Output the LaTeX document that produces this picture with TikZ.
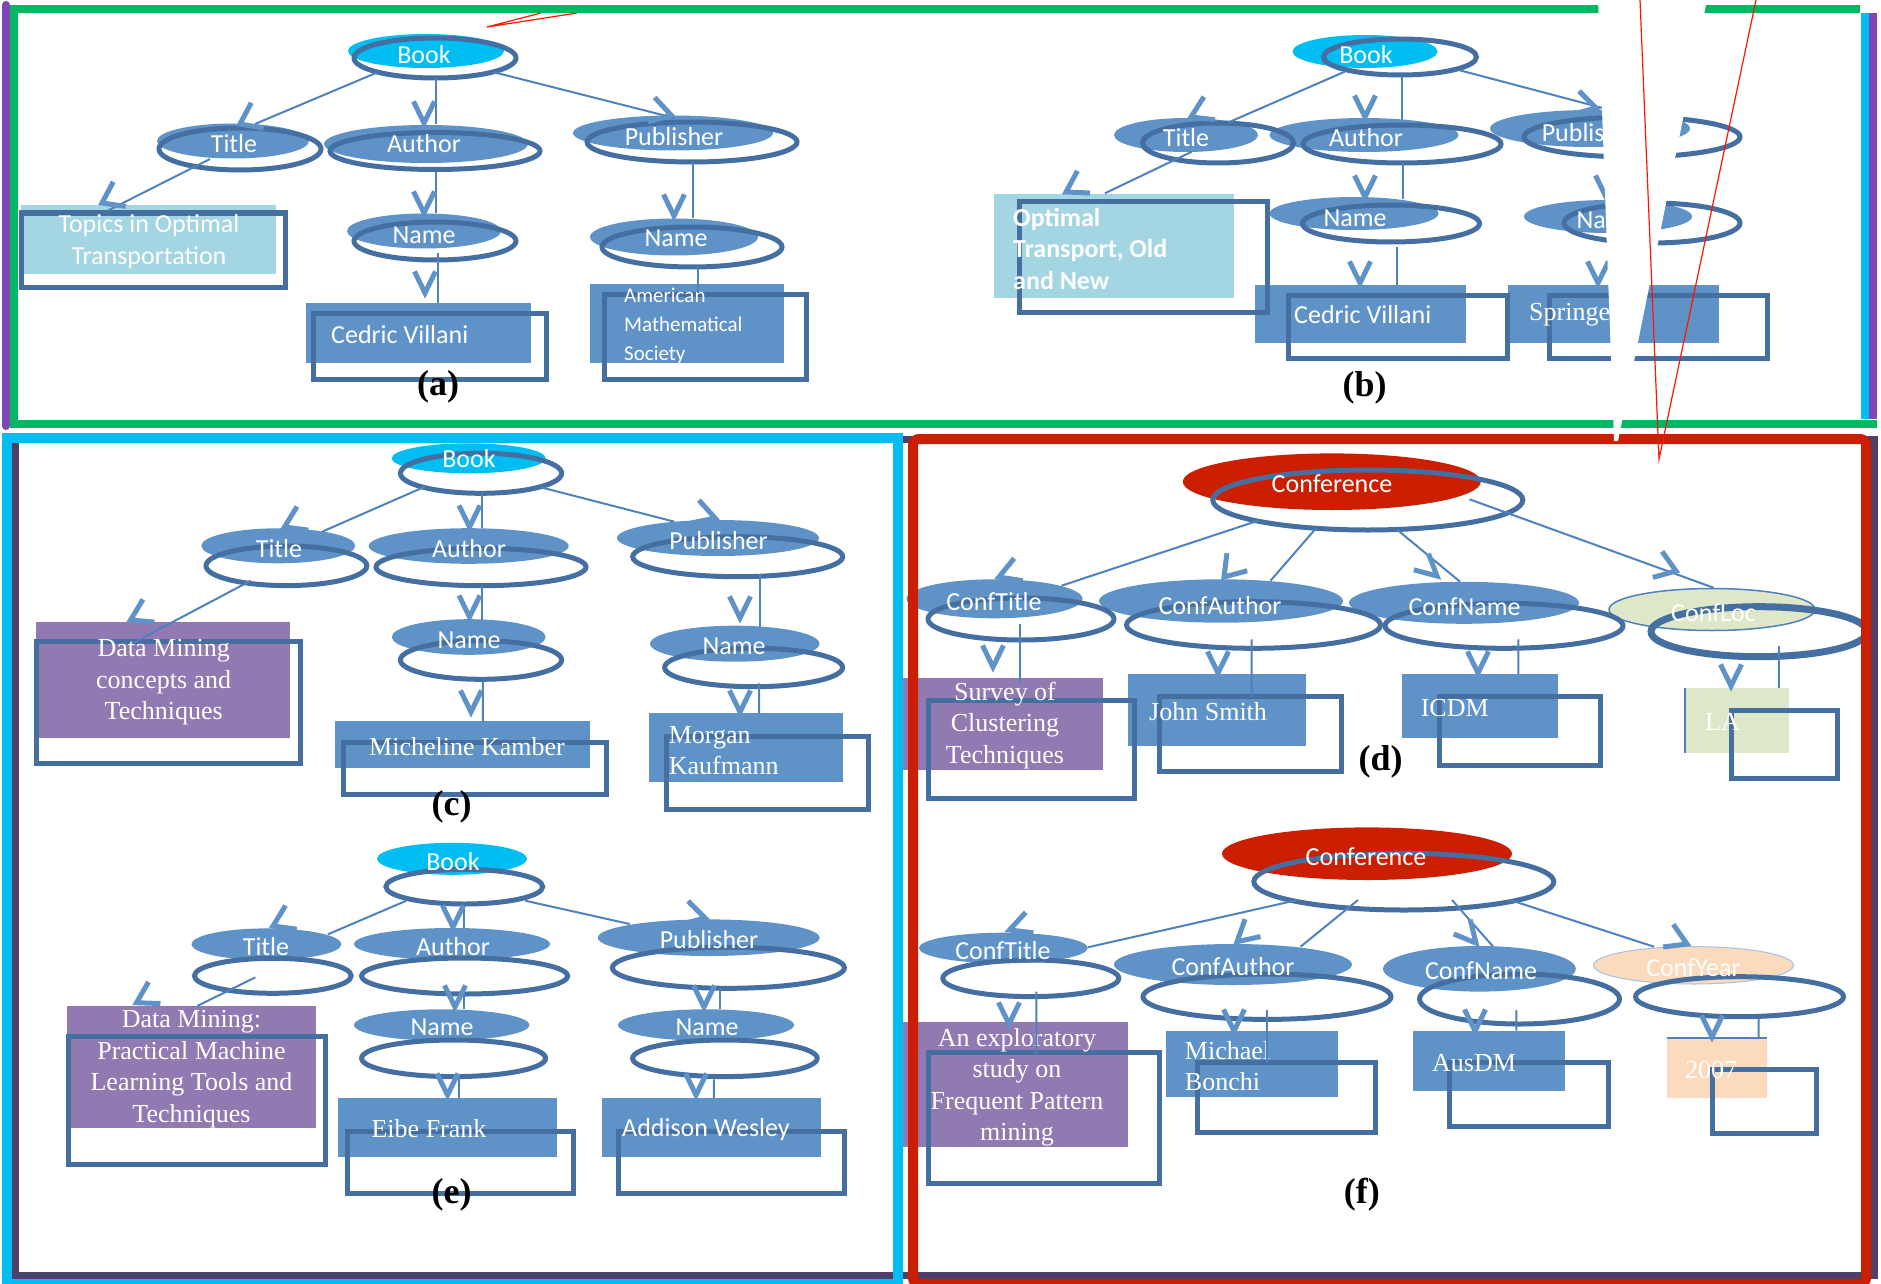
\documentclass[tikz,border=0pt]{standalone}
\usepackage{fontspec}
\setmainfont{Liberation Serif}
\newfontfamily\calfont{Carlito}
\usetikzlibrary{shapes.geometric,calc}

\definecolor{nodeblue}{RGB}{95,147,200}
\definecolor{outblue}{RGB}{69,111,160}
\definecolor{linkblue}{RGB}{79,129,189}
\definecolor{bookcyan}{RGB}{0,190,242}
\definecolor{confred}{RGB}{204,30,0}
\definecolor{paleblue}{RGB}{163,213,227}
\definecolor{leafpurple}{RGB}{145,121,178}
\definecolor{palegreen}{RGB}{222,231,200}
\definecolor{peach}{RGB}{252,218,190}
\definecolor{framegreen}{RGB}{0,184,98}
\definecolor{framecyan}{RGB}{0,190,242}
\definecolor{framepurple}{RGB}{127,71,178}
\definecolor{framedark}{RGB}{80,63,106}
\definecolor{framered}{RGB}{204,30,0}
\definecolor{calloutred}{RGB}{255,20,0}

\pgfdeclarelayer{fills}
\pgfdeclarelayer{outl}
\pgfsetlayers{fills,outl,main}

\tikzset{
  fillshape/.style={inner sep=0pt, outer sep=0pt, draw=none},
  outshape/.style={inner sep=0pt, outer sep=0pt, draw=outblue, line width=5pt},
  etxt/.style={text=white, font=\calfont\fontsize{26}{32}\selectfont, inner sep=0pt},
  stxt/.style={text=white, font=\fontsize{26}{31.5}\selectfont, inner sep=0pt},
  connline/.style={draw=linkblue, line width=2pt},
  chevst/.style={draw=nodeblue, line width=5pt},
  plabel/.style={font=\bfseries\fontsize{36}{40}\selectfont, inner sep=0pt},
}

% filled ellipse: [style] name, colour, cx, cy, rx, ry  (y measured downwards)
\newcommand\fillell[7][]{\begin{pgfonlayer}{fills}\node[fillshape,ellipse,fill=#3,#1,minimum width={2*#6pt},minimum height={2*#7pt}] (#2) at (#4,-#5) {};\end{pgfonlayer}}
% outline ellipse: [style] name, cx, cy, rx, ry
\newcommand\outell[6][]{\begin{pgfonlayer}{outl}\node[outshape,ellipse,#1,minimum width={2*#5pt},minimum height={2*#6pt}] (#2) at (#3,-#4) {};\end{pgfonlayer}}
% filled box: name, colour, x1, y1, x2, y2
\newcommand\fillbox[6]{\begin{pgfonlayer}{fills}\node[fillshape,rectangle,fill=#2,minimum width={(#5-#3)*1pt},minimum height={(#6-#4)*1pt}] (#1) at ({(#3+#5)/2},{-(#4+#6)/2}) {};\end{pgfonlayer}}
% outline box: name, x1, y1, x2, y2
\newcommand\outbox[5]{\begin{pgfonlayer}{outl}\node[outshape,rectangle,minimum width={(#4-#2)*1pt},minimum height={(#5-#3)*1pt}] (#1) at ({(#2+#4)/2},{-(#3+#5)/2}) {};\end{pgfonlayer}}
% connector between two named nodes, with offsets from their centres
\newcommand\conn[6]{\draw[connline] ($(#1.center)+(#2,#3)$) -- ($(#4.center)+(#5,#6)$);}
% open chevron head: [half angle] tip x, tip y, direction of travel
\newcommand\chev[4][26]{\draw[chevst] (#2,-#3) ++(#4+180-#1:24) -- (#2,-#3) -- ++(#4+180+#1:24);}

\begin{document}
\begin{tikzpicture}[x=1pt,y=1pt]
\useasboundingbox (0,0) rectangle (1881,-1284);

%% ---------------- (a) ----------------
\fillell{a-book}{bookcyan}{426}{51}{78}{17}
\outell{a-book-o}{435}{58}{81}{20}
\fillell{a-title}{nodeblue}{233}{141}{76}{17.5}
\outell{a-title-o}{240}{149}{81}{21}
\fillell{a-author}{nodeblue}{426}{144}{102}{19}
\outell{a-author-o}{435}{151}{105}{18.5}
\fillell{a-pub}{nodeblue}{673}{133}{100}{17.5}
\outell{a-pub-o}{692}{142}{105}{20}
\fillell{a-name1}{nodeblue}{424}{231}{77}{17.5}
\outell{a-name1-o}{435}{241}{81}{19}
\fillell{a-name2}{nodeblue}{674}{237}{84}{18.5}
\outell{a-name2-o}{692}{247}{90}{20}
\fillbox{a-leaf1}{paleblue}{21}{205}{276}{274}
\outbox{a-leaf1-o}{21}{213}{285}{287}
\fillbox{a-leaf2}{nodeblue}{306}{303}{531}{363}
\outbox{a-leaf2-o}{313}{313}{546}{379}
\fillbox{a-leaf3}{nodeblue}{590}{284}{784}{363}
\outbox{a-leaf3-o}{604}{294}{806}{379}

\node[etxt] (a-book-t) at (424,-55) {Book};
\node[etxt] (a-title-t) at (234,-144) {Title};
\node[etxt] (a-author-t) at (424,-144) {Author};
\node[etxt] (a-pub-t) at (674,-137) {Publisher};
\node[etxt] (a-name1-t) at (424,-235) {Name};
\node[etxt] (a-name2-t) at (676,-238) {Name};
\node[etxt, align=center] (a-leaf1-t) at (149,-242) {Topics in Optimal\\Transportation};
\node[etxt, anchor=west] (a-leaf2-t) at (331,-335) {Cedric Villani};
\node[etxt, anchor=west, align=left, font=\calfont\fontsize{21}{29}\selectfont] (a-leaf3-t) at (624,-326) {American\\Mathematical\\Society};
\node[plabel] (a-lab) at (438,-387) {(a)};

\conn{a-book-o}{-59}{-15}{a-title}{22}{17}
\conn{a-book-o}{1}{-20}{a-author}{10}{20}
\conn{a-book-o}{58}{-14}{a-pub}{1.5}{15}
\conn{a-title-o}{-30}{-10}{a-leaf1}{-41.5}{28.5}
\conn{a-author-o}{1}{-21}{a-name1}{12}{18}
\conn{a-name1-o}{3}{-12}{a-leaf2}{19.5}{30}
\conn{a-pub-o}{0.5}{-20}{a-name2}{18.5}{19}
\conn{a-name2-o}{6}{-20}{a-leaf3}{11}{30.5}

\chev[36]{240}{124}{206}
\chev{424}{123}{-90}
\chev[32]{671}{115}{-15}
\chev[35]{102}{203}{207}
\chev{424}{213}{-90}
\chev{425}{293}{-90}
\chev{674}{216}{-90}

%% ---------------- (b) ----------------
\fillell{b-book}{bookcyan}{1365}{51.5}{72.5}{16.5}
\outell{b-book-o}{1400}{57}{76.5}{18}
\fillell{b-title}{nodeblue}{1186}{135}{72}{17}
\outell{b-title-o}{1218}{143}{75.5}{20}
\fillell{b-author}{nodeblue}{1364}{135}{94.5}{17}
\outell{b-author-o}{1402}{144}{99}{19}
\fillell{b-pub}{nodeblue}{1590}{128.5}{100}{18.5}
\outell{b-pub-o}{1632}{137}{108}{20}
\fillell{b-name1}{nodeblue}{1354}{213.5}{84.5}{16.5}
\outell{b-name1-o}{1391}{223.5}{88.5}{18.5}
\fillell{b-name2}{nodeblue}{1608}{216.5}{84}{16.5}
\outell{b-name2-o}{1652}{223}{88}{20}
\fillbox{b-leaf1}{paleblue}{994}{194}{1234}{298}
\outbox{b-leaf1-o}{1019}{202}{1267}{312}
\fillbox{b-leaf2}{nodeblue}{1255}{285}{1466}{343}
\outbox{b-leaf2-o}{1288}{295}{1507}{358}
\fillbox{b-leaf3}{nodeblue}{1508}{285}{1719}{343}
\outbox{b-leaf3-o}{1549}{295}{1767}{358}

\node[etxt] (b-book-t) at (1366,-55) {Book};
\node[etxt] (b-title-t) at (1186,-138) {Title};
\node[etxt] (b-author-t) at (1366,-138) {Author};
\node[etxt] (b-pub-t) at (1591,-133) {Publisher};
\node[etxt] (b-name1-t) at (1355,-218) {Name};
\node[etxt] (b-name2-t) at (1608,-220) {Name};
\node[etxt, anchor=west, align=left, font=\calfont\bfseries\fontsize{26}{31.5}\selectfont] (b-leaf1-t) at (1013,-248.5) {Optimal\\Transport, Old\\and New};
\node[etxt, anchor=west] (b-leaf2-t) at (1294,-315) {Cedric Villani};
\node[stxt, anchor=west] (b-leaf3-t) at (1529,-315) {Springer};
\node[plabel] (b-lab) at (1364.5,-388) {(b)};

\conn{b-book-o}{-55.3}{-14.7}{b-title}{41.8}{12.3}
\conn{b-book-o}{1.6}{-19}{b-author}{37.6}{15}
\conn{b-book-o}{58.6}{-13}{b-pub}{12.5}{20.5}
\conn{b-title-o}{-26.2}{-8.7}{b-leaf1}{-9.1}{52.7}
\conn{b-author-o}{0.8}{-19.3}{b-name1}{48.8}{14.2}
\conn{b-name1-o}{5.8}{-23.2}{b-leaf2}{36.3}{29}
\conn{b-pub-o}{10}{-20}{b-name2}{34}{18.5}
\conn{b-name2-o}{-7}{-20}{b-leaf3}{31.5}{29}

\chev[32]{1191}{117}{205.5}
\chev{1365}{117}{-90}
\chev[30]{1596}{108}{-15}
\chev[32]{1066}{192}{209.6}
\chev{1365}{197}{-90}
\chev{1360}{283}{-90}
\chev{1606}{197}{-90}
\chev{1598}{283}{-90}

%% ---------------- (c) ----------------
\fillell{c-book}{bookcyan}{468.7}{458.3}{77}{15}
\outell{c-book-o}{481}{473.3}{80.6}{20}
\fillell{c-title}{nodeblue}{278.3}{545.8}{77}{17.5}
\outell{c-title-o}{286.4}{565.8}{80.4}{19.8}
\fillell{c-author}{nodeblue}{468.7}{546}{100}{17.8}
\outell{c-author-o}{481}{567}{105}{18.7}
\fillell{c-pub}{nodeblue}{718}{538}{101}{18}
\outell{c-pub-o}{737.7}{556.7}{105}{20}
\fillell{c-name1}{nodeblue}{468.7}{637}{77}{17.8}
\outell{c-name1-o}{481}{660}{80.6}{19.3}
\fillell{c-name2}{nodeblue}{734.8}{643.7}{84.7}{18}
\outell{c-name2-o}{753.6}{667.5}{89}{19.2}
\fillbox{c-leaf1}{leafpurple}{36}{621.7}{290.2}{737.7}
\outbox{c-leaf1-o}{36}{641.7}{300.6}{763.3}
\fillbox{c-leaf2}{nodeblue}{334.9}{721}{590.2}{767.7}
\outbox{c-leaf2-o}{343.6}{742.7}{606.5}{794}
\fillbox{c-leaf3}{nodeblue}{648.9}{713.3}{843.3}{781.7}
\outbox{c-leaf3-o}{666.3}{736}{868.8}{809.3}

\node[etxt] (c-book-t) at (469,-459) {Book};
\node[etxt] (c-title-t) at (279,-549) {Title};
\node[etxt] (c-author-t) at (469,-549) {Author};
\node[etxt] (c-pub-t) at (718.5,-541) {Publisher};
\node[etxt] (c-name1-t) at (469,-640) {Name};
\node[etxt] (c-name2-t) at (734,-646) {Name};
\node[stxt, align=center] (c-leaf1-t) at (163.7,-682.5) {Data Mining\\concepts and\\Techniques};
\node[stxt] (c-leaf2-t) at (467,-747) {Micheline Kamber};
\node[stxt, anchor=west, align=left] (c-leaf3-t) at (668.6,-750.5) {Morgan\\Kaufmann};
\node[plabel] (c-lab) at (451.5,-807) {(c)};

\conn{c-book-o}{-56.2}{-13.4}{c-title}{43.8}{14.1}
\conn{c-book-o}{0.7}{-18.4}{c-author}{13}{17.7}
\conn{c-book-o}{59.9}{-14}{c-pub}{-43.6}{16.3}
\conn{c-title-o}{-35.7}{-14.9}{c-leaf1}{-29.6}{37}
\conn{c-author-o}{0.7}{-18}{c-name1}{13}{17}
\conn{c-name1-o}{1.9}{-21.7}{c-leaf2}{20.4}{22.6}
\conn{c-pub-o}{22.6}{-17.3}{c-name2}{25.5}{17}
\conn{c-name2-o}{5.5}{-15.8}{c-leaf3}{13}{34.2}

\chev[33]{284.5}{527}{205.6}
\chev{469.5}{527}{-90}
\chev[30]{715}{518}{-18}
\chev[32]{130.6}{620}{207}
\chev{469.5}{617}{-90}
\chev{471}{712}{-90}
\chev{740}{618}{-90}
\chev{740}{712}{-90}

%% ---------------- (d) ----------------
\fillell{d-conf}{confred}{1331.8}{481.7}{149}{28.3}
\outell{d-conf-o}{1367.8}{500}{155}{30}
\fillell{d-ctitle}{nodeblue}{994.5}{598.8}{88}{19.5}
\outell{d-ctitle-o}{1021}{619}{93}{21}
\fillell{d-cauthor}{nodeblue}{1221}{601}{122}{21.7}
\outell{d-cauthor-o}{1253.5}{625}{127}{23.3}
\fillell{d-cname}{nodeblue}{1464}{602.8}{115}{21}
\outell{d-cname-o}{1504}{625.8}{119}{22.5}
\fillell[draw=linkblue, line width=1.5pt]{d-cloc}{palegreen}{1712}{609.5}{103}{21}
\outell[line width=7pt]{d-cloc-o}{1759}{631.7}{108}{25}
\fillbox{d-leaf1}{leafpurple}{903}{678.3}{1103.4}{770}
\outbox{d-leaf1-o}{928.2}{700}{1134.7}{798.3}
\fillbox{d-leaf2}{nodeblue}{1128.4}{674}{1305.5}{745.7}
\outbox{d-leaf2-o}{1159.7}{696}{1341.2}{771.7}
\fillbox{d-leaf3}{nodeblue}{1401.9}{674}{1558.3}{738.3}
\outbox{d-leaf3-o}{1439.4}{696}{1600.9}{765}
\fillbox{d-leaf4}{palegreen}{1685.4}{688.3}{1788.6}{752.7}
\outbox{d-leaf4-o}{1731}{710}{1837.4}{778.3}
\draw[connline] (d-leaf4.north west) -- (d-leaf4.south west);

\node[etxt] (d-conf-t) at (1332,-484) {Conference};
\node[etxt] (d-ctitle-t) at (994,-602) {ConfTitle};
\node[etxt] (d-cauthor-t) at (1220,-606) {ConfAuthor};
\node[etxt] (d-cname-t) at (1464.5,-607) {ConfName};
\node[etxt] (d-cloc-t) at (1713.5,-613) {ConfLoc};
\node[stxt, align=center] (d-leaf1-t) at (1005,-725.5) {Survey of\\Clustering\\Techniques};
\node[stxt, anchor=west] (d-leaf2-t) at (1149,-712) {John Smith};
\node[stxt, anchor=west] (d-leaf3-t) at (1420.6,-708) {ICDM};
\node[stxt, anchor=west] (d-leaf4-t) at (1705,-722) {LA};
\node[plabel] (d-lab) at (1380.6,-762) {(d)};

\conn{d-conf-o}{-109.8}{-20.7}{d-ctitle}{67}{13.1}
\conn{d-conf-o}{-51.8}{-28.3}{d-cauthor}{49.5}{20.3}
\conn{d-conf-o}{29.7}{-30}{d-cname}{-4}{21.1}
\conn{d-conf-o}{101.7}{0.7}{d-cloc}{1.5}{21.8}
\conn{d-ctitle-o}{-1}{-5}{d-leaf1}{16.8}{40.9}
\conn{d-cauthor-o}{-1.8}{-14.3}{d-leaf2}{34.7}{12.6}
\conn{d-cname-o}{14.3}{-13.5}{d-leaf3}{38.2}{32.2}
\conn{d-cloc-o}{20.2}{-14.3}{d-leaf4}{42.2}{32.2}

\chev[30]{999}{577}{201}
\chev[34]{1224}{577}{229}
\chev[27]{1437}{576}{-42}
\chev[35]{1676}{571}{-19.5}
\chev{993}{667}{-90}
\chev{1218}{673}{-90}
\chev{1478}{673}{-90}
\chev{1731}{686}{-90}

%% ---------------- (e) ----------------
\fillell{e-book}{bookcyan}{452}{858.8}{75}{16}
\outell{e-book-o}{464.3}{886.7}{78.4}{17.3}
\fillell{e-title}{nodeblue}{266.4}{944.2}{75}{15.8}
\outell{e-title-o}{272.8}{975.8}{78.4}{17.5}
\fillell{e-author}{nodeblue}{452}{944}{98}{16}
\outell{e-author-o}{464.6}{976}{103}{18}
\fillell{e-pub}{nodeblue}{708.7}{937.7}{111}{18.3}
\outell{e-pub-o}{728.4}{967.8}{116}{20.5}
\fillell{e-name1}{nodeblue}{441.7}{1025}{87.7}{15.7}
\outell{e-name1-o}{453.6}{1058.3}{92}{18.3}
\fillell{e-name2}{nodeblue}{706}{1025}{88}{15.7}
\outell{e-name2-o}{724.9}{1058.3}{92.3}{18.3}
\fillbox{e-leaf1}{leafpurple}{66.7}{1006}{316.3}{1127.7}
\outbox{e-leaf1-o}{68.5}{1036}{325}{1164}
\fillbox{e-leaf2}{nodeblue}{337.8}{1098.3}{557.2}{1156.7}
\outbox{e-leaf2-o}{347}{1131.7}{573.4}{1193.3}
\fillbox{e-leaf3}{nodeblue}{601.9}{1098.3}{821.2}{1156.7}
\outbox{e-leaf3-o}{618.1}{1131.7}{844.5}{1193.3}

\node[etxt] (e-book-t) at (453,-862) {Book};
\node[etxt] (e-title-t) at (266,-947) {Title};
\node[etxt] (e-author-t) at (453,-947) {Author};
\node[etxt] (e-pub-t) at (709,-940) {Publisher};
\node[etxt] (e-name1-t) at (442,-1027) {Name};
\node[etxt] (e-name2-t) at (707,-1027) {Name};
\node[stxt, align=center] (e-leaf1-t) at (191.5,-1069) {Data Mining:\\Practical Machine\\Learning Tools and\\Techniques};
\node[stxt, anchor=west] (e-leaf2-t) at (371.4,-1129) {Eibe Frank};
\node[etxt, anchor=west] (e-leaf3-t) at (622,-1130) {Addison Wesley};
\node[plabel] (e-lab) at (451.5,-1195) {(e)};

\conn{e-book-o}{-58}{-14}{e-title}{61.5}{9.9}
\conn{e-book-o}{0}{-18.3}{e-author}{12.3}{15.7}
\conn{e-book-o}{60.9}{-14}{e-pub}{-79}{13.7}
\conn{e-title-o}{-17.4}{-1.5}{e-leaf1}{5.8}{60.9}
\conn{e-author-o}{-0.3}{-10.7}{e-name1}{22.6}{15.7}
\conn{e-name1-o}{4.9}{-18.4}{e-leaf2}{11}{29.2}
\conn{e-pub-o}{-8.7}{-20.5}{e-name2}{13.7}{15.7}
\conn{e-name2-o}{-11}{-21}{e-leaf3}{2.3}{29.2}

\chev[33]{273}{926}{205.5}
\chev{453}{927}{-90}
\chev[30]{705}{918}{-15}
\chev[31]{136.5}{1002.7}{209}
\chev{455}{1007}{-90}
\chev{447.5}{1095}{-90}
\chev{704}{1007}{-90}
\chev{696}{1095}{-90}

%% ---------------- (f) ----------------
\fillell{f-conf}{confred}{1367}{853.7}{145}{26.3}
\outell{f-conf-o}{1403.8}{881.7}{150}{28.3}
\fillell{f-ctitle}{nodeblue}{1003.3}{948}{84.5}{15.3}
\outell{f-ctitle-o}{1030.8}{978.3}{88}{18.3}
\fillell{f-cauthor}{nodeblue}{1232.9}{964.5}{119}{20.5}
\outell{f-cauthor-o}{1267}{996.7}{124}{22.7}
\fillell{f-cname}{nodeblue}{1479.4}{968.8}{96.4}{22.8}
\outell{f-cname-o}{1519.5}{999}{100}{25}
\fillell[draw=linkblue!50, line width=1pt]{f-cyear}{peach}{1693.5}{965.3}{100}{18.7}
\outell{f-cyear-o}{1739.5}{996.7}{104}{20}
\fillbox{f-leaf1}{leafpurple}{903}{1021.7}{1128.4}{1146.7}
\outbox{f-leaf1-o}{928.2}{1052.7}{1159.7}{1183.3}
\fillbox{f-leaf2}{nodeblue}{1166}{1030.7}{1338}{1096.7}
\outbox{f-leaf2-o}{1197.2}{1062.7}{1375.6}{1132.7}
\fillbox{f-leaf3}{nodeblue}{1413.1}{1030.7}{1564.6}{1090.7}
\outbox{f-leaf3-o}{1449.4}{1062.7}{1608.4}{1126}
\fillbox{f-leaf4}{peach}{1666.6}{1038.3}{1766.7}{1098.3}
\outbox{f-leaf4-o}{1712.3}{1069.3}{1816.8}{1133.3}
\draw[connline] (f-leaf4.north west) -- (f-leaf4.north east);

\node[etxt] (f-conf-t) at (1366,-857) {Conference};
\node[etxt] (f-ctitle-t) at (1003,-951) {ConfTitle};
\node[etxt] (f-cauthor-t) at (1233,-967) {ConfAuthor};
\node[etxt] (f-cname-t) at (1481,-971) {ConfName};
\node[etxt] (f-cyear-t) at (1693.5,-968) {ConfYear};
\node[stxt, align=center] (f-leaf1-t) at (1017,-1087.5) {An exploratory\\study on\\Frequent Pattern\\mining};
\node[stxt, anchor=west, align=left] (f-leaf2-t) at (1184.7,-1066) {Michael\\Bonchi};
\node[stxt, anchor=west] (f-leaf3-t) at (1432,-1063) {AusDM};
\node[stxt, anchor=west] (f-leaf4-t) at (1685,-1070) {2007};
\node[plabel] (f-lab) at (1361.8,-1195) {(f)};

\conn{f-conf-o}{-106.4}{-18.3}{f-ctitle}{84.4}{0.7}
\conn{f-conf-o}{-45.8}{-18.3}{f-cauthor}{67.6}{17.8}
\conn{f-conf-o}{48.2}{-18.3}{f-cname}{13.8}{22.1}
\conn{f-conf-o}{106.2}{-18.3}{f-cyear}{-39.5}{18.6}
\conn{f-ctitle-o}{5.6}{-13.4}{f-leaf1}{20.7}{30.9}
\conn{f-cauthor-o}{0.3}{-13.3}{f-leaf2}{15.3}{0.4}
\conn{f-cname-o}{-3.1}{-11}{f-leaf3}{27.5}{30}
\conn{f-cyear-o}{19.1}{-21.6}{f-leaf4}{41.9}{30}

\chev[27]{1009.5}{930}{200.4}
\chev[29]{1237}{941.7}{221.3}
\chev[27]{1476}{943}{-49}
\chev[31]{1687}{944}{-24}
\chev{1009}{1024}{-90}
\chev{1234}{1031}{-90}
\chev{1475}{1031}{-90}
\chev{1712}{1037}{-90}

%% ---------------- frames ----------------
% callout remnant near the top of (a)
\draw[calloutred, line width=1.2pt] (541,-13) -- (487,-27) -- (577,-13);
% upper frame around (a) and (b)
\draw[framegreen, line width=8pt] (1860,-9) -- (14,-9) -- (14,-423.5) -- (1877,-423.5);
\draw[framepurple, line width=8pt, line cap=round] (6,-5) -- (6,-426);
\draw[framecyan, line width=8pt] (1865,-13) -- (1865,-419);
\draw[framepurple, line width=8pt] (1873,-13) -- (1873,-419);
% lower frames
\draw[framedark, line width=7pt] (15.5,-439) rectangle (1874,-1275.5);
\draw[framecyan, line width=10pt] (7,-438) rectangle (898,-1284);
\draw[framered, line width=10pt, rounded corners=6pt] (913,-439) rectangle (1866,-1284);

% white wedge cutting through (b), with the red callout lines over it
\fill[white] (1598,0) -- (1707,0) -- (1618,-441) -- (1614,-441) -- cycle;
\draw[calloutred, line width=1.2pt] (1640,0) -- (1659,-459) -- (1756,0);
\end{tikzpicture}
\end{document}
